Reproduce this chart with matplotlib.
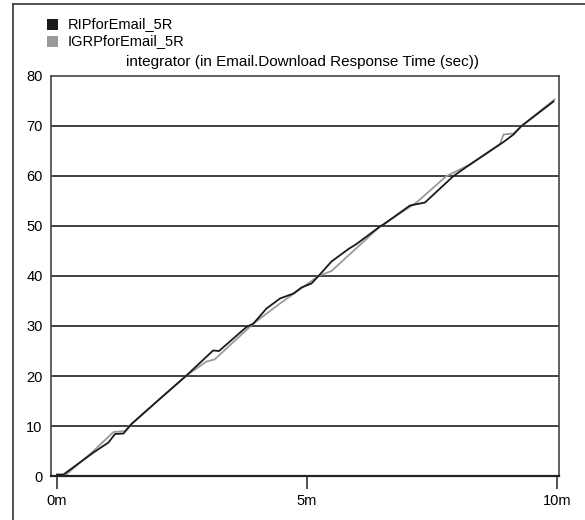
import matplotlib.pyplot as plt
from matplotlib.lines import Line2D
from matplotlib.patches import Rectangle

plt.rcParams['font.family'] = ['Liberation Sans', 'DejaVu Sans']

# minutes into the run vs. integrated response time
rip_t = [0, 0.13, 0.73, 1.03, 1.16, 1.33, 1.49, 2.03, 2.59, 3.09, 3.12, 3.24, 3.79, 3.93,
         4.19, 4.46, 4.73, 4.89, 5.09, 5.23, 5.49, 5.83, 5.99, 6.46, 6.53, 7.06, 7.36,
         7.93, 8.26, 8.93, 9.13, 9.29, 9.93]
rip_y = [0.3, 0.3, 4.7, 6.7, 8.4, 8.5, 10.4, 15.2, 20.1, 24.8, 25.1, 25.0, 29.8, 30.5,
         33.5, 35.5, 36.5, 37.7, 38.5, 40.0, 42.9, 45.4, 46.4, 49.9, 50.3, 54.1, 54.7,
         60.0, 62.3, 66.8, 68.3, 70.0, 74.9]

igrp_t = [0.15, 0.73, 1.13, 1.36, 1.49, 2.59, 2.99, 3.15, 3.93, 4.46, 5.23, 5.49, 6.46,
          7.19, 7.79, 8.26, 8.86, 8.93, 9.13, 9.29, 9.95]
igrp_y = [0.0, 5.0, 8.8, 9.0, 10.4, 20.1, 22.9, 23.3, 30.5, 34.5, 40.0, 41.0, 49.9,
          54.7, 60.0, 62.3, 66.4, 68.3, 68.5, 70.0, 75.3]

series_names = ['RIPforEmail_5R', 'IGRPforEmail_5R']
series_colors = ['#1a1a1a', '#9a9a9a']
yticks = [0, 10, 20, 30, 40, 50, 60, 70, 80]
xticks = [0, 5, 10]
xlabels = ['0m', '5m', '10m']

W, H = 585, 520
fig = plt.figure(figsize=(W / 100, H / 100), dpi=100)
ax = fig.add_axes([51 / W, 1 - 476 / H, (559 - 51) / W, (476 - 76) / H])

for y in yticks[1:-1]:
    ax.axhline(y, color='#333333', lw=1.3, zorder=1)

ax.plot(igrp_t, igrp_y, color=series_colors[1], lw=1.3, zorder=2)
ax.plot(rip_t, rip_y, color=series_colors[0], lw=1.3, zorder=3)

ax.set_xlim(-0.12, 10.04)
ax.set_ylim(0, 80)
ax.set_xticks(xticks)
ax.set_xticklabels(xlabels)
ax.set_yticks(yticks)
ax.tick_params(axis='x', direction='out', length=9, width=1.2, color='#333333',
               pad=4, labelsize=10.5)
ax.tick_params(axis='y', length=0, pad=6, labelsize=10.5)
for s in ax.spines.values():
    s.set_color('#444444')
    s.set_linewidth(1.2)
ax.spines['bottom'].set_color('#222222')
ax.spines['bottom'].set_linewidth(1.6)

# outer frame (left and top only)
fig.add_artist(Line2D([13 / W, 13 / W], [0, 1 - 4 / H], color='#444444', lw=1.3))
fig.add_artist(Line2D([13 / W, 1], [1 - 4 / H, 1 - 4 / H], color='#444444', lw=1.3))

# legend
for i, (name, col) in enumerate(zip(series_names, series_colors)):
    top = 19 + i * 17
    fig.add_artist(Rectangle((47 / W, 1 - (top + 11) / H), 11 / W, 11 / H,
                             facecolor=col, edgecolor='none'))
    fig.text(68 / W, 1 - (top + 5) / H, name, fontsize=10.5, va='center', ha='left')

fig.text(303 / W, 1 - 62 / H, 'integrator (in Email.Download Response Time (sec))',
         fontsize=11, va='center', ha='center')

fig.savefig('out.png', dpi=100)
